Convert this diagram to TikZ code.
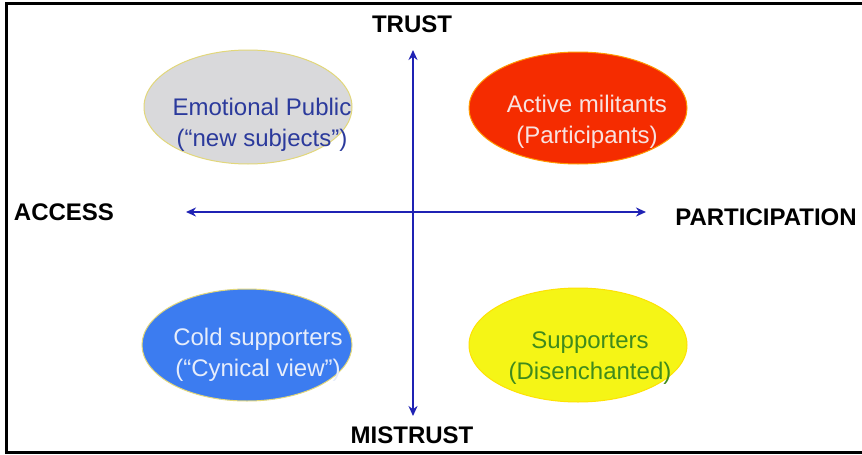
\documentclass[tikz,border=0pt]{standalone}
\usepackage{fontspec}
\setmainfont{Liberation Sans}
\usetikzlibrary{arrows.meta,shapes.geometric}
\definecolor{axisblue}{HTML}{1F22B4}
\definecolor{rimgold}{HTML}{E2D77A}
\definecolor{fillgray}{HTML}{D9D9DB}
\definecolor{fillred}{HTML}{F52C00}
\definecolor{fillblue}{HTML}{3C7CF0}
\definecolor{fillyellow}{HTML}{F5F516}
\definecolor{txtnavy}{HTML}{2B3A9C}
\definecolor{txtpink}{HTML}{F8E2E0}
\definecolor{txtpale}{HTML}{E6EDFB}
\definecolor{txtgreen}{HTML}{3F8B1C}
\tikzset{
  blob/.style={ellipse, draw=rimgold, line width=1pt, inner sep=0pt},
  blobtext/.style={align=center, font=\fontsize{24}{31}\selectfont},
  axislabel/.style={font=\fontsize{24}{28}\selectfont\bfseries},
  axis/.style={draw=axisblue, line width=2pt, {Stealth[length=10pt,width=9pt]}-{Stealth[length=10pt,width=9pt]}},
  frame/.style={line width=3pt, black}
}
\begin{document}
\begin{tikzpicture}[x=1pt,y=-1pt]
\useasboundingbox (0,0) rectangle (862,455);
\fill[white] (0,0) rectangle (862,455);
% open frame: top, left and bottom edges
\draw[frame] (862,3) -- (6,3) -- (6,452) -- (862,452);

% quadrant ellipses
\node[blob, fill=fillgray, minimum width=208pt, minimum height=114pt] (emo) at (248,107) {};
\node[blob, fill=fillred, draw=orange!80!yellow, minimum width=218pt, minimum height=112pt] (act) at (578,108) {};
\node[blob, fill=fillblue, minimum width=210pt, minimum height=112pt] (cold) at (247,345) {};
\node[blob, fill=fillyellow, draw=yellow!85!orange, minimum width=218pt, minimum height=114pt] (sup) at (578,345) {};

\node[blobtext, text=txtnavy] (emot) at (262,125) {Emotional Public\\(“new subjects”)};
\node[blobtext, text=txtpink] (actt) at (587,122) {Active militants\\(Participants)};
\node[blobtext, text=txtpale] (coldt) at (258,355) {Cold supporters\\(“Cynical view”)};
\node[blobtext, text=txtgreen] (supt) at (590,358) {Supporters\\(Disenchanted)};

% axis labels
\node[axislabel] (trust) at (412,24) {TRUST};
\node[axislabel] (mistrust) at (412,435) {MISTRUST};
\node[axislabel] (access) at (64,212) {ACCESS};
\node[axislabel] (partic) at (766,217) {PARTICIPATION};

% axes
\coordinate (vtop) at (413,50);
\coordinate (vbot) at (413,416);
\coordinate (hleft) at (186,212);
\coordinate (hright) at (646,212);
\draw[axis] (vbot) -- (vtop);
\draw[axis] (hleft) -- (hright);
\end{tikzpicture}
\end{document}
